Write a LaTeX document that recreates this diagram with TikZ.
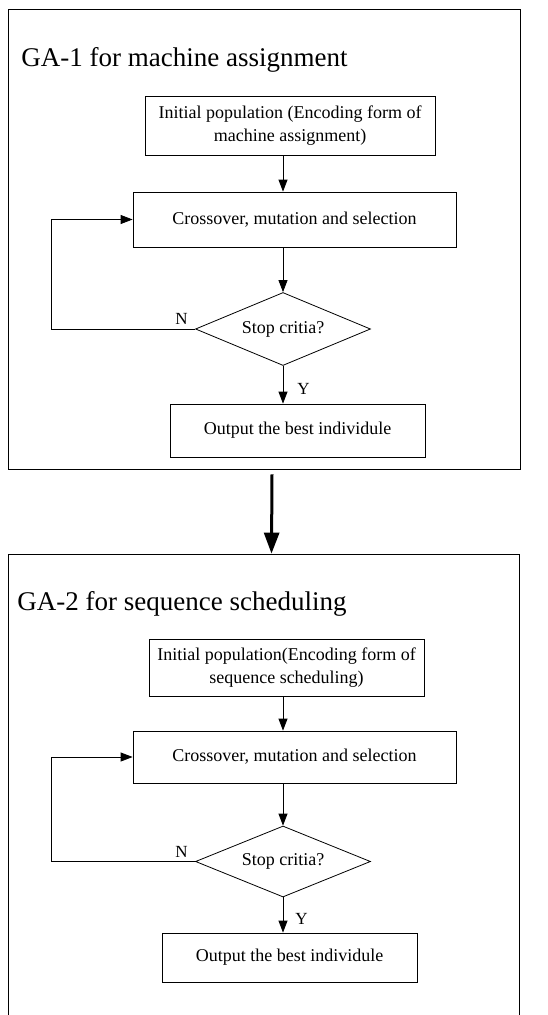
\documentclass[tikz,border=0pt]{standalone}
\usepackage{fontspec}
\setmainfont{Liberation Serif}
\usepackage{tikz}
\usetikzlibrary{arrows.meta,positioning,shapes.geometric}

\begin{document}
\begin{tikzpicture}[x=1pt,y=-1pt,line width=0.8pt,
    box/.style={draw,rectangle,inner sep=0pt,align=center,font=\fontsize{18}{23}\selectfont},
    dia/.style={draw,diamond,inner sep=0pt,aspect=2.4,minimum width=175pt,minimum height=73pt,font=\fontsize{18}{23}\selectfont},
    panel/.style={draw,rectangle,inner sep=0pt},
    ttl/.style={anchor=base west,inner sep=0pt,font=\fontsize{27}{32}\selectfont},
    lbl/.style={inner sep=0pt,font=\fontsize{17}{20}\selectfont},
    arr/.style={-{Triangle[length=12pt,width=9pt]}},
    bigarr/.style={line width=3pt,-{Triangle[length=21pt,width=15pt]}}]
    \useasboundingbox(0,0)rectangle(548,1015);
    % GA-1
    \node[panel,minimum width=512pt,minimum height=460pt](ga1)at(264,239){};
    \node[ttl](t1)at(21,66){GA-1 for machine assignment};
    \node[box,minimum width=290pt,minimum height=59pt](init1)at(290,125.5){Initial population (Encoding form of\\machine assignment)};
    \node[box,minimum width=323pt,minimum height=55pt](cross1)at(294.5,219.5){Crossover, mutation and selection};
    \node[dia](dia1)at(283,329){Stop critia?};
    \node[box,minimum width=255pt,minimum height=53pt](out1)at(297.5,430.5){Output the best individule};
    \coordinate(back1)at(51,329);
    \draw[arr](dia1.north|-init1.south)--(dia1.north|-cross1.north);
    \draw[arr](dia1.north|-cross1.south)--(dia1.north);
    \draw[arr](dia1.south)--(dia1.south|-out1.north)node[lbl,pos=0.62,right=14pt]{Y};
    \draw[arr](dia1.west)node[lbl,above left=4pt and 7pt]{N}--(back1)|-(cross1.west);
    % GA-2
    \node[panel,minimum width=511pt,minimum height=471pt](ga2)at(263.5,789.5){};
    \node[ttl](t2)at(17,610){GA-2 for sequence scheduling};
    \node[box,minimum width=275pt,minimum height=57pt](init2)at(286.5,667.5){Initial population(Encoding form of\\sequence scheduling)};
    \node[box,minimum width=323pt,minimum height=52pt](cross2)at(294.5,757){Crossover, mutation and selection};
    \node[dia,minimum height=71pt](dia2)at(283,861.5){Stop critia?};
    \node[box,minimum width=255pt,minimum height=49pt](out2)at(289.5,957.5){Output the best individule};
    \coordinate(back2)at(51,861.5);
    \draw[arr](dia2.north|-init2.south)--(dia2.north|-cross2.north);
    \draw[arr](dia2.north|-cross2.south)--(dia2.north);
    \draw[arr](dia2.south)--(dia2.south|-out2.north)node[lbl,pos=0.62,right=12pt]{Y};
    \draw[arr](dia2.west)node[lbl,above left=4pt and 7pt]{N}--(back2)|-(cross2.west);
    % link
    \draw[bigarr]([xshift=8pt,yshift=-5pt]ga1.south)--([xshift=8pt]ga2.north);
\end{tikzpicture}
\end{document}
